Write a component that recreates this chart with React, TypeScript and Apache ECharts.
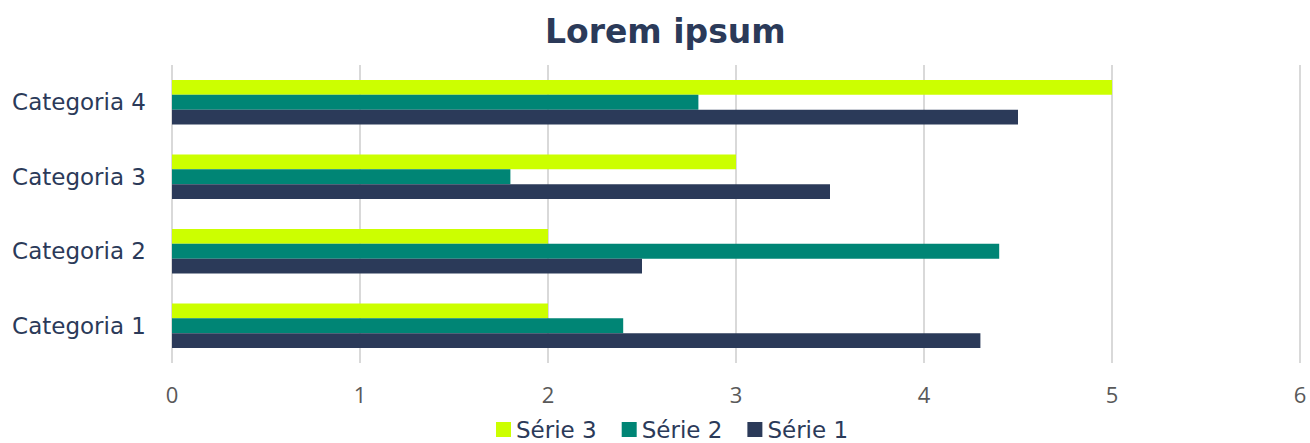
import React, { useEffect, useRef } from "react";
import * as echarts from "echarts";

const categories = ["Categoria 1", "Categoria 2", "Categoria 3", "Categoria 4"];
const serie1 = [4.3, 2.5, 3.5, 4.5];
const serie2 = [2.4, 4.4, 1.8, 2.8];
const serie3 = [2.0, 2.0, 3.0, 5.0];
const legendOrder = ["Série 3", "Série 2", "Série 1"];

export default function App() {
  const ref = useRef<HTMLDivElement>(null);
  useEffect(() => {
    if (!ref.current) return;
    const chart = echarts.init(ref.current, undefined, { renderer: "svg" });
    const font = "'DejaVu Sans', Verdana, sans-serif";
    const barCommon = { type: "bar", barGap: "0%", barCategoryGap: "40%" };
    chart.setOption({
      animation: false,
      backgroundColor: "#ffffff",
      title: {
        text: "Lorem ipsum",
        left: 540,
        top: 10,
        textStyle: { fontFamily: font, fontSize: 33, fontWeight: "bold", color: "#2B3A59" },
      },
      legend: {
        data: legendOrder,
        top: 413,
        left: 491,
        itemWidth: 15,
        itemHeight: 15,
        itemGap: 25,
        icon: "rect",
        textStyle: { fontFamily: font, fontSize: 23, color: "#2B3A59", padding: [0, 0, 0, 0] },
      },
      grid: { left: 172, right: 10, top: 65, bottom: 80 },
      xAxis: {
        type: "value",
        min: 0,
        max: 6,
        interval: 1,
        axisLine: { show: false },
        axisTick: { show: false },
        axisLabel: { fontFamily: "'Open Sans', sans-serif", fontSize: 22, color: "#595959", margin: 20 },
        splitLine: { show: true, lineStyle: { color: "#D9D9D9", width: 2 } },
      },
      yAxis: {
        type: "category",
        data: categories,
        axisLine: { show: false },
        axisTick: { show: false },
        axisLabel: { fontFamily: font, fontSize: 23, color: "#2B3A59", margin: 26 },
      },
      series: [
        { ...barCommon, name: "Série 3", data: serie3, itemStyle: { color: "#CCFF00" } },
        { ...barCommon, name: "Série 2", data: serie2, itemStyle: { color: "#008575" } },
        { ...barCommon, name: "Série 1", data: serie1, itemStyle: { color: "#2B3A59" } },
      ],
    });
    return () => chart.dispose();
  }, []);
  return (
    <div
      ref={ref}
      style={{ position: "fixed", left: 0, top: 0, width: 1310, height: 443 }}
    />
  );
}
